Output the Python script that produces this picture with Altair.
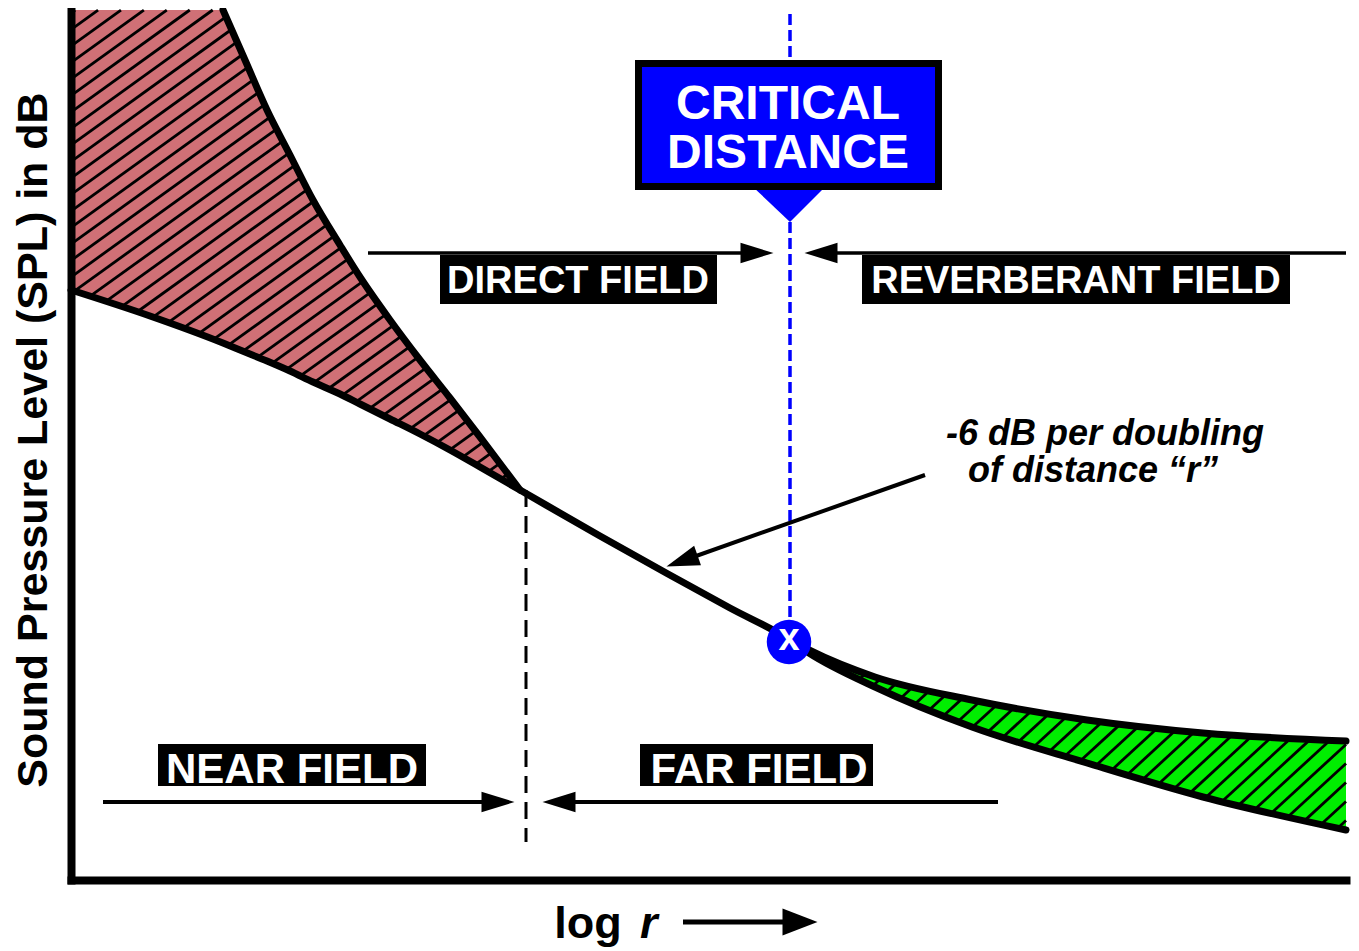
import altair as alt
import numpy as np
import pandas as pd

# ---------------- data (x = log r, y = SPL in dB, schematic units) ----------------
near_x = [0, 7.9, 15.2, 17.4, 19.6, 21.9, 24.2, 26.9, 28.9, 31.9, 34.9, 37.9, 40.9, 44.9]
near_total = [87, 87, 87, 82.0, 77.0, 72.5, 68.0, 63.5, 60.3, 56.0, 52.0, 48.2, 44.3, 39.0]
near_direct = [59.0, 56.4, 53.7, 52.8, 51.9, 50.9, 49.8, 48.6, 47.6, 46.1, 44.6, 43.0, 41.3, 39.0]
mid_x = [52.9, 59.7, 65.9]
mid_direct = [34.4, 30.6, 27.2]
far_x = [71.9, 73.8, 80.4, 90.1, 101.6, 113.2, 127.5]
far_total = [24.0, 23.0, 20.3, 18.0, 16.0, 14.7, 13.9]
far_direct = [24.0, 22.7, 19.3, 15.3, 11.7, 8.3, 5.0]

critical_x = 71.9
critical_y = 23.8
near_far_x = 45.5

# labels in black boxes
label_text = ["DIRECT FIELD", "REVERBERANT FIELD", "NEAR FIELD", "FAR FIELD"]
label_x = [50.7, 100.5, 22.1, 68.8]
label_y = [58.7, 58.7, 9.7, 9.7]
label_size = [38, 38, 42, 42]
box_x = [36.9, 79.1, 8.7, 56.9]
box_x2 = [64.6, 121.9, 35.5, 80.2]
box_y = [62.5, 62.5, 13.6, 13.6]
box_y2 = [57.6, 57.6, 9.4, 9.4]

# arrow shafts
shaft_x = [29.7, 75.9, 3.2, 49.4, 85.4]
shaft_x2 = [67.4, 127.5, 41.4, 92.7, 61.1]
shaft_y = [62.7, 62.7, 7.8, 7.8, 40.5]
shaft_y2 = [62.7, 62.7, 7.8, 7.8, 31.9]
shaft_w = [3.5, 3.5, 4, 4, 4]
# arrow heads
head_x = [68.6, 75.0, 42.7, 48.8, 61.1]
head_y = [62.7, 62.7, 7.8, 7.8, 31.9]
head_angle = [0, 180, 0, 180, 160.5]

# blue critical-distance box
cd_box = {"x": 56.75, "x2": 86.75, "y": 81.65, "y2": 69.35}
cd_lines = ["CRITICAL", "DISTANCE"]
cd_line_y = [76.1, 71.2]
cd_tri_x = [68.1, 71.9, 75.5]
cd_tri_top = [69.4, 69.4, 69.4]
cd_tri_tip = [69.4, 65.8, 69.4]

note_lines = ["-6 dB per doubling", "of distance \u201cr\u201d"]
note_x = [103.4, 102.2]
note_y = [43.5, 39.8]

PINK = "#d07076"
GREEN = "#00ee00"
BLUE = "#0000ff"
FONT = "Liberation Sans"

XS = alt.Scale(domain=[0, 127.5], nice=False, zero=False)
YS = alt.Scale(domain=[0, 87], nice=False, zero=False)
AX = alt.Axis(title=None, labels=False, ticks=False, grid=False, domain=True,
              domainColor="black", domainWidth=8, domainCap="square", zindex=1)


def xe(f="x"):
    return alt.X(f"{f}:Q", scale=XS, axis=AX)


def ye(f="y"):
    return alt.Y(f"{f}:Q", scale=YS, axis=AX)


def hatch(xs, top, bottom, slope, gap):
    gx = np.linspace(xs[0], xs[-1], 4000)
    lo = np.interp(gx, xs, bottom)
    hi = np.interp(gx, xs, top)
    rows = []
    for c in np.arange((lo - slope * gx).min() + gap / 2, (hi - slope * gx).max(), gap):
        yy = c + slope * gx
        idx = np.flatnonzero((yy >= lo) & (yy <= hi))
        if idx.size < 2:
            continue
        cut = np.flatnonzero(np.diff(idx) > 1)
        starts = np.r_[idx[0], idx[cut + 1]]
        ends = np.r_[idx[cut], idx[-1]]
        for a, b in zip(starts, ends):
            if b > a:
                rows.append({"x": gx[a], "y": yy[a], "x2": gx[b], "y2": yy[b]})
    return pd.DataFrame(rows)


layers = []

near_df = pd.DataFrame({"x": near_x, "y": near_total, "y2": near_direct})
far_df = pd.DataFrame({"x": far_x, "y": far_total, "y2": far_direct})

layers.append(alt.Chart(near_df).mark_area(interpolate="monotone", color=PINK)
              .encode(x=xe(), y=ye(), y2="y2:Q"))
layers.append(alt.Chart(far_df).mark_area(interpolate="monotone", color=GREEN)
              .encode(x=xe(), y=ye(), y2="y2:Q"))

red_h = hatch(near_x, near_total, near_direct, 0.72, 1.65)
green_h = hatch(far_x, far_total, far_direct, 0.92, 1.9)
for hdf in (red_h, green_h):
    layers.append(alt.Chart(hdf).mark_rule(color="black", strokeWidth=2.8)
                  .encode(x=xe(), y=ye(), x2="x2:Q", y2="y2:Q"))

# black outlines
direct_df = pd.DataFrame({"x": near_x + mid_x + far_x,
                          "y": near_direct + mid_direct + far_direct})
near_top_df = pd.DataFrame({"x": near_x[2:], "y": near_total[2:]})
far_top_df = pd.DataFrame({"x": far_x, "y": far_total})
for d in (direct_df, near_top_df, far_top_df):
    layers.append(alt.Chart(d).mark_line(interpolate="monotone", color="black", strokeWidth=7,
                                         strokeCap="round", strokeJoin="round")
                  .encode(x=xe(), y=ye()))

# near / far boundary dashed line
layers.append(alt.Chart(pd.DataFrame({"x": [near_far_x], "y": [near_direct[-1]], "y2": [3.8]}))
              .mark_rule(color="black", strokeWidth=3, strokeDash=[17, 9])
              .encode(x=xe(), y=ye(), y2="y2:Q"))

# critical distance blue dashed line
layers.append(alt.Chart(pd.DataFrame({"x": [critical_x], "y": [86.6], "y2": [25.5]}))
              .mark_rule(color=BLUE, strokeWidth=3.5, strokeDash=[11, 5])
              .encode(x=xe(), y=ye(), y2="y2:Q"))

# label boxes + text
lab_df = pd.DataFrame({"t": label_text, "x": label_x, "y": label_y, "s": label_size,
                       "bx": box_x, "bx2": box_x2, "by": box_y, "by2": box_y2})
layers.append(alt.Chart(lab_df).mark_rect(color="black")
              .encode(x=xe("bx"), x2="bx2:Q", y=ye("by"), y2="by2:Q"))
layers.append(alt.Chart(lab_df).mark_text(font=FONT, fontWeight="bold", color="white",
                                          align="center", baseline="alphabetic")
              .encode(x=xe(), y=ye(), text="t:N", size=alt.Size("s:Q", scale=None)))

# arrows
shaft_df = pd.DataFrame({"x": shaft_x, "x2": shaft_x2, "y": shaft_y, "y2": shaft_y2, "w": shaft_w})
layers.append(alt.Chart(shaft_df).mark_rule(color="black")
              .encode(x=xe(), x2="x2:Q", y=ye(), y2="y2:Q",
                      strokeWidth=alt.StrokeWidth("w:Q", scale=None)))
head_df = pd.DataFrame({"x": head_x, "y": head_y, "a": head_angle})
layers.append(alt.Chart(head_df).mark_point(shape="M1,0L-1,-0.62L-1,0.62Z", filled=True,
                                            color="black", opacity=1, size=1089, strokeWidth=0)
              .encode(x=xe(), y=ye(), angle=alt.Angle("a:Q", scale=None)))

# critical distance callout
layers.append(alt.Chart(pd.DataFrame({"x": cd_tri_x, "y": cd_tri_top, "y2": cd_tri_tip}))
              .mark_area(color=BLUE).encode(x=xe(), y=ye(), y2="y2:Q"))
layers.append(alt.Chart(pd.DataFrame([cd_box])).mark_rect(fill=BLUE, stroke="black", strokeWidth=7)
              .encode(x=xe(), x2="x2:Q", y=ye(), y2="y2:Q"))
layers.append(alt.Chart(pd.DataFrame({"t": cd_lines, "x": [critical_x - 0.2] * 2, "y": cd_line_y}))
              .mark_text(font=FONT, fontWeight="bold", color="white", fontSize=48,
                         align="center", baseline="alphabetic")
              .encode(x=xe(), y=ye(), text="t:N"))

# critical point marker
cp_df = pd.DataFrame({"x": [critical_x - 0.1], "y": [critical_y], "t": ["x"]})
layers.append(alt.Chart(cp_df).mark_circle(color=BLUE, opacity=1, size=1980)
              .encode(x=xe(), y=ye()))
layers.append(alt.Chart(cp_df).mark_text(font=FONT, fontWeight="bold", color="white", fontSize=38,
                                         align="center", baseline="middle", dy=-3)
              .encode(x=xe(), y=ye(), text="t:N"))

# -6 dB note
layers.append(alt.Chart(pd.DataFrame({"t": note_lines, "x": note_x, "y": note_y}))
              .mark_text(font=FONT, fontWeight="bold", fontStyle="italic", color="black",
                         fontSize=36, align="center", baseline="alphabetic")
              .encode(x=xe(), y=ye(), text="t:N"))

# axis titles
layers.append(alt.Chart(pd.DataFrame({"t": ["Sound Pressure Level (SPL) in dB"], "x": [-2.4], "y": [44.0]}))
              .mark_text(font=FONT, fontWeight="bold", color="black", fontSize=43, angle=270,
                         align="center", baseline="alphabetic")
              .encode(x=xe(), y=ye(), text="t:N"))
layers.append(alt.Chart(pd.DataFrame({"t": ["log"], "x": [51.7], "y": [-5.8]}))
              .mark_text(font=FONT, fontWeight="bold", color="black", fontSize=45,
                         align="center", baseline="alphabetic")
              .encode(x=xe(), y=ye(), text="t:N"))
layers.append(alt.Chart(pd.DataFrame({"t": ["r"], "x": [56.9], "y": [-5.8]}))
              .mark_text(font=FONT, fontWeight="bold", fontStyle="italic", color="black", fontSize=45,
                         align="left", baseline="alphabetic")
              .encode(x=xe(), y=ye(), text="t:N"))
layers.append(alt.Chart(pd.DataFrame({"x": [61.2], "x2": [72.0], "y": [-4.2]}))
              .mark_rule(color="black", strokeWidth=5)
              .encode(x=xe(), x2="x2:Q", y=ye()))
layers.append(alt.Chart(pd.DataFrame({"x": [72.9], "y": [-4.2]}))
              .mark_point(shape="M1,0L-1,-0.77L-1,0.77Z", filled=True, color="black", opacity=1,
                          size=1225, strokeWidth=0)
              .encode(x=xe(), y=ye()))

chart = alt.layer(*layers).properties(
    width=1275, height=870,
    padding={"left": 63, "top": 2, "right": 5, "bottom": 72},
    autosize=alt.AutoSizeParams(type="none"),
    background="white",
).configure_view(stroke=None)

chart.save("out.html", embed_options={"renderer": "svg", "actions": False})
